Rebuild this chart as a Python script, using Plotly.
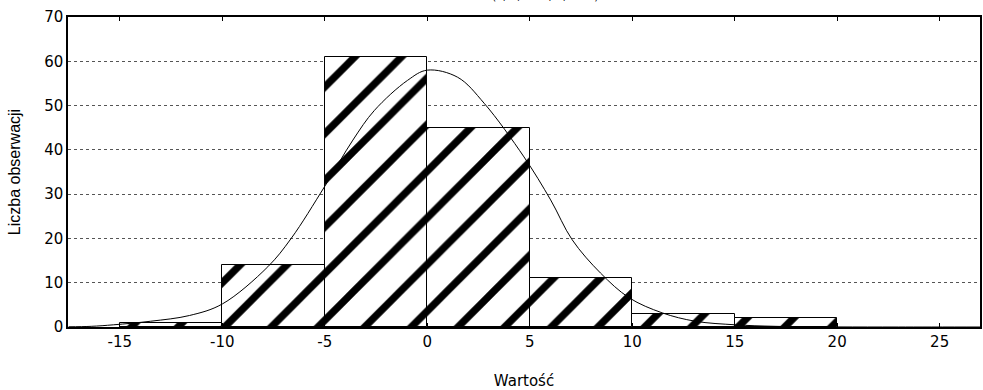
import plotly.graph_objects as go

# Histogram bins (left edges) and counts
bin_left = [-15, -10, -5, 0, 5, 10, 15]
bin_width = 5
counts = [1, 14, 61, 45, 11, 3, 2]

# Fitted normal curve
curve_x = [-17.5, -16.4, -15.3, -13.5, -11.6, -10.0, -7.78, -6.64, -5.01, -3.63, -2.58,
           -0.96, 0.0, 1.48, 2.78, 4.72, 6.02, 7.07, 8.45, 9.85, 11.46, 13.08, 15.03,
           17.0, 20.0, 23.0, 27.0]
curve_y = [0.05, 0.15, 0.5, 1.3, 2.6, 5.2, 13.6, 20.0, 31.7, 42.2, 48.9,
           55.7, 58.0, 56.4, 50.5, 38.4, 28.7, 19.7, 12.2, 6.6, 3.2, 1.3, 0.5,
           0.15, 0.02, 0.0, 0.0]

x_ticks = [-15, -10, -5, 0, 5, 10, 15, 20, 25]
y_ticks = [0, 10, 20, 30, 40, 50, 60, 70]

title_text = "Wartość = 137*5*normal(x; 0,3869; 4,7156)"
x_title = "Wartość"
y_title = "Liczba obserwacji"

FONT = "DejaVu Sans, sans-serif"
FONT_V = "Liberation Sans, Arial, sans-serif"

bin_centers = [b + bin_width / 2 for b in bin_left]

fig = go.Figure()
fig.add_trace(go.Bar(
    x=bin_centers, y=counts, width=[bin_width] * len(counts),
    marker=dict(
        color="white",
        line=dict(color="black", width=1),
        pattern=dict(shape="/", fgcolor="black", bgcolor="white", fgopacity=1,
                     size=33, solidity=0.22, fillmode="replace"),
    ),
    showlegend=False, hoverinfo="skip",
))
fig.add_trace(go.Scatter(
    x=curve_x, y=curve_y, mode="lines", line=dict(color="black", width=1, shape="spline"),
    showlegend=False, hoverinfo="skip",
))

fig.update_layout(
    width=983, height=390,
    margin=dict(l=68, r=1, t=17, b=63),
    paper_bgcolor="white", plot_bgcolor="white",
    font=dict(family=FONT, size=15, color="black"),
    bargap=0,
    annotations=[dict(
        text=title_text, xref="paper", yref="paper", x=0.447, y=1.039,
        xanchor="center", yanchor="bottom", showarrow=False,
        font=dict(family=FONT, size=11, color="black"),
    )],
)
fig.update_xaxes(
    range=[-17.53, 26.97], tickvals=x_ticks, ticktext=[str(v) for v in x_ticks],
    showgrid=False, zeroline=False, showline=True, linecolor="black", linewidth=1.5,
    mirror="ticks", ticks="inside", ticklen=4, tickcolor="black",
    title=dict(text=x_title, font=dict(family=FONT, size=15), standoff=26),
    tickfont=dict(family=FONT, size=15),
)
fig.update_yaxes(
    range=[0, 70], tickvals=y_ticks, ticktext=[str(v) for v in y_ticks],
    showgrid=True, gridcolor="#555555", griddash="dot", gridwidth=1,
    zeroline=False, showline=True, linecolor="black", linewidth=1.5,
    mirror=True, ticks="",
    title=dict(text=y_title, font=dict(family=FONT_V, size=16), standoff=20),
    tickfont=dict(family=FONT, size=15),
)

fig.write_html("out.html", config={"displayModeBar": False},
               post_script="document.body.style.margin='0';document.body.style.overflow='hidden';")
